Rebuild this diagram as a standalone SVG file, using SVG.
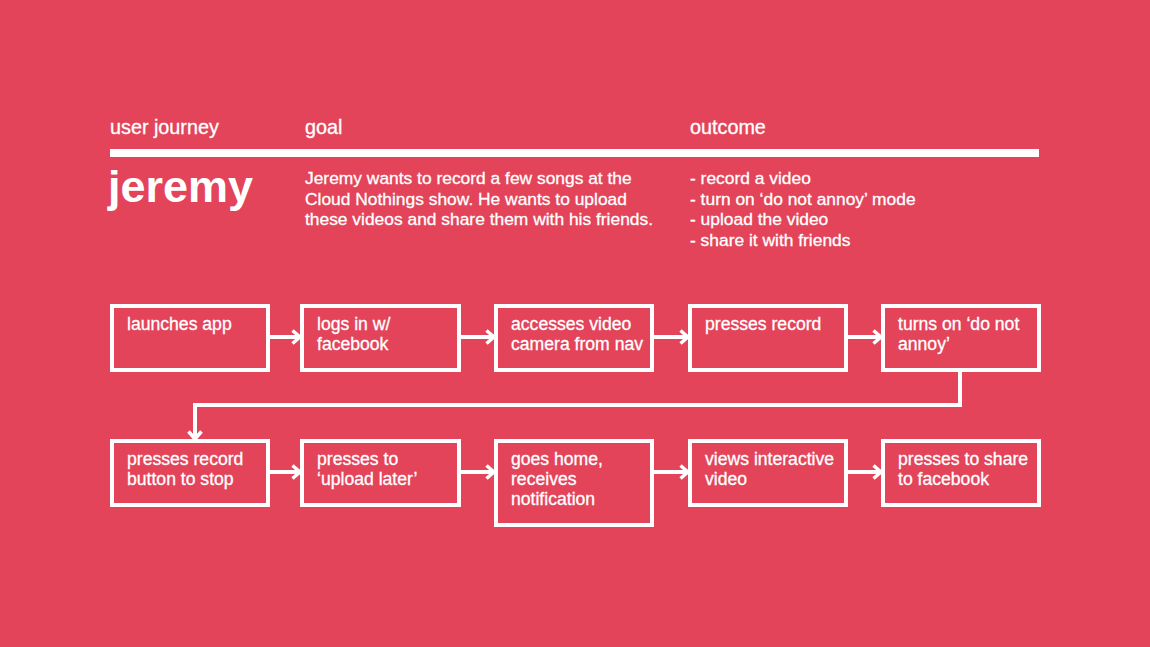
<svg xmlns="http://www.w3.org/2000/svg" width="1150" height="647" viewBox="0 0 1150 647">
<style>
.t{font-family:"Liberation Sans",Arial,Helvetica,sans-serif;fill:#fff;stroke:#fff;stroke-width:0.3}
.h{font-size:19.8px}
.g{font-size:17.4px}
.b{font-size:17.6px}
.box{fill:none;stroke:#fff;stroke-width:4}
.c{fill:none;stroke:#fff;stroke-width:4}
</style>
<defs>
<marker id="ah" viewBox="0 0 12 16" refX="10" refY="8" markerWidth="12" markerHeight="16" markerUnits="userSpaceOnUse" orient="auto">
<path d="M2.5,1.5 L10,8 L2.5,14.5" fill="none" stroke="#fff" stroke-width="3.5"/>
</marker>
</defs>
<rect width="1150" height="647" fill="#E3445A"/>
<g id="header">
<text class="t h" x="110" y="134">user journey</text>
<text class="t h" x="305" y="134">goal</text>
<text class="t h" x="690" y="134">outcome</text>
<rect x="110" y="149" width="929" height="8" fill="#fff"/>
<text x="108" y="202" style="font-family:'Liberation Sans',Arial,sans-serif;font-weight:bold;font-size:45px;fill:#fff">jeremy</text>
<text class="t g" x="305" y="184">Jeremy wants to record a few songs at the</text>
<text class="t g" x="305" y="204.5">Cloud Nothings show. He wants to upload</text>
<text class="t g" x="305" y="225">these videos and share them with his friends.</text>
<text class="t g" x="690" y="184">- record a video</text>
<text class="t g" x="690" y="204.5">- turn on ‘do not annoy’ mode</text>
<text class="t g" x="690" y="225">- upload the video</text>
<text class="t g" x="690" y="245.5">- share it with friends</text>
</g>
<g id="n1"><rect class="box" x="112" y="306" width="156" height="64"/><text class="t b" x="127" y="330">launches app</text></g>
<g id="n2"><rect class="box" x="302" y="306" width="157" height="64"/><text class="t b" x="317" y="330">logs in w/</text><text class="t b" x="317" y="350">facebook</text></g>
<g id="n3"><rect class="box" x="496" y="306" width="156" height="64"/><text class="t b" x="511" y="330">accesses video</text><text class="t b" x="511" y="350">camera from nav</text></g>
<g id="n4"><rect class="box" x="690" y="306" width="156" height="64"/><text class="t b" x="705" y="330">presses record</text></g>
<g id="n5"><rect class="box" x="883" y="306" width="156" height="64"/><text class="t b" x="898" y="330">turns on ‘do not</text><text class="t b" x="898" y="350">annoy’</text></g>
<g id="n6"><rect class="box" x="112" y="441" width="156" height="64"/><text class="t b" x="127" y="465">presses record</text><text class="t b" x="127" y="485">button to stop</text></g>
<g id="n7"><rect class="box" x="302" y="441" width="157" height="64"/><text class="t b" x="317" y="465">presses to</text><text class="t b" x="317" y="485">‘upload later’</text></g>
<g id="n8"><rect class="box" x="496" y="441" width="156" height="84"/><text class="t b" x="511" y="465">goes home,</text><text class="t b" x="511" y="485">receives</text><text class="t b" x="511" y="505">notification</text></g>
<g id="n9"><rect class="box" x="690" y="441" width="156" height="64"/><text class="t b" x="705" y="465">views interactive</text><text class="t b" x="705" y="485">video</text></g>
<g id="n10"><rect class="box" x="883" y="441" width="156" height="64"/><text class="t b" x="898" y="465">presses to share</text><text class="t b" x="898" y="485">to facebook</text></g>
<g id="connectors">
<line class="c" x1="270" y1="337" x2="300" y2="337" marker-end="url(#ah)"/>
<line class="c" x1="461" y1="337" x2="494" y2="337" marker-end="url(#ah)"/>
<line class="c" x1="654" y1="337" x2="688" y2="337" marker-end="url(#ah)"/>
<line class="c" x1="848" y1="337" x2="881" y2="337" marker-end="url(#ah)"/>
<polyline class="c" points="960,372 960,405 195,405 195,439" marker-end="url(#ah)"/>
<line class="c" x1="270" y1="472" x2="300" y2="472" marker-end="url(#ah)"/>
<line class="c" x1="461" y1="472" x2="494" y2="472" marker-end="url(#ah)"/>
<line class="c" x1="654" y1="472" x2="688" y2="472" marker-end="url(#ah)"/>
<line class="c" x1="848" y1="472" x2="881" y2="472" marker-end="url(#ah)"/>
</g>
</svg>
